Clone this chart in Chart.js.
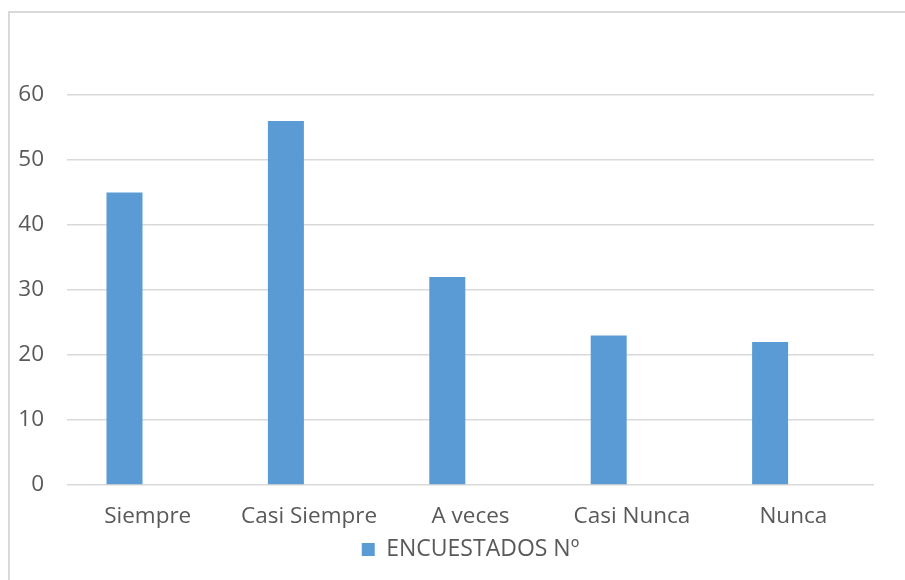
<!DOCTYPE html>
<html>
<head>
<meta charset="utf-8">
<script src="https://cdn.jsdelivr.net/npm/chart.js@4"></script>
<style>
  body { margin: 0; background: #fff; }
  .frame {
    position: absolute; left: 8px; top: 11px;
    width: 1000px; height: 1000px;
    border: 2px solid #d9d9d9;
  }
  canvas { position: absolute; left: 0; top: 0; }
</style>
</head>
<body>
<div class="frame"></div>
<canvas id="myChart" width="905" height="580"></canvas>
<script>
const categories = ["Siempre", "Casi Siempre", "A veces", "Casi Nunca", "Nunca"];
const encuestados = [45, 56, 32, 23, 22];
// empty second series in the source workbook, keeps the bars off-centre
const emptySeries = [null, null, null, null, null];
const yTicks = [0, 10, 20, 30, 40, 50, 60];

const textColor = "#595959";
const fontFamily = "'Open Sans', sans-serif";

// center the legend under the plot area, like the original
const legendUnderPlot = {
  id: "legendUnderPlot",
  afterLayout(chart) {
    if (chart.legend) {
      chart.legend.left = chart.chartArea.left;
      chart.legend.right = chart.chartArea.right;
    }
  },
};

const ctx = document.getElementById("myChart").getContext("2d");
new Chart(ctx, {
  type: "bar",
  data: {
    labels: categories,
    datasets: [
      {
        label: "ENCUESTADOS Nº",
        data: encuestados,
        backgroundColor: "#5b9bd5",
        borderWidth: 0,
      },
      {
        label: "",
        data: emptySeries,
        backgroundColor: "#ed7d31",
      },
    ],
  },
  options: {
    responsive: false,
    animation: false,
    categoryPercentage: 0.575,
    barPercentage: 0.776,
    layout: {
      padding: { top: 95, left: 10, right: 31, bottom: 9 },
    },
    scales: {
      x: {
        afterFit: (scale) => {
          scale.height = 50;
        },
        grid: { display: false, drawTicks: false },
        border: { display: false },
        ticks: {
          color: textColor,
          font: { family: fontFamily, size: 22.5 },
          padding: 18,
        },
      },
      y: {
        min: 0,
        max: 60,
        afterFit: (scale) => {
          scale.width = 57;
        },
        afterBuildTicks: (scale) => {
          scale.ticks = yTicks.map((v) => ({ value: v }));
        },
        grid: { color: "#d9d9d9", lineWidth: 1.5, drawTicks: false },
        border: { display: false },
        ticks: {
          color: textColor,
          font: { family: fontFamily, size: 22.5 },
          padding: 23,
        },
      },
    },
    plugins: {
      legend: {
        position: "bottom",
        labels: {
          color: textColor,
          font: { family: fontFamily, size: 23 },
          boxWidth: 13,
          boxHeight: 13,
          padding: 3,
          filter: (item) => item.text !== "",
        },
      },
      tooltip: { enabled: false },
    },
  },
  plugins: [legendUnderPlot],
});
</script>
</body>
</html>
